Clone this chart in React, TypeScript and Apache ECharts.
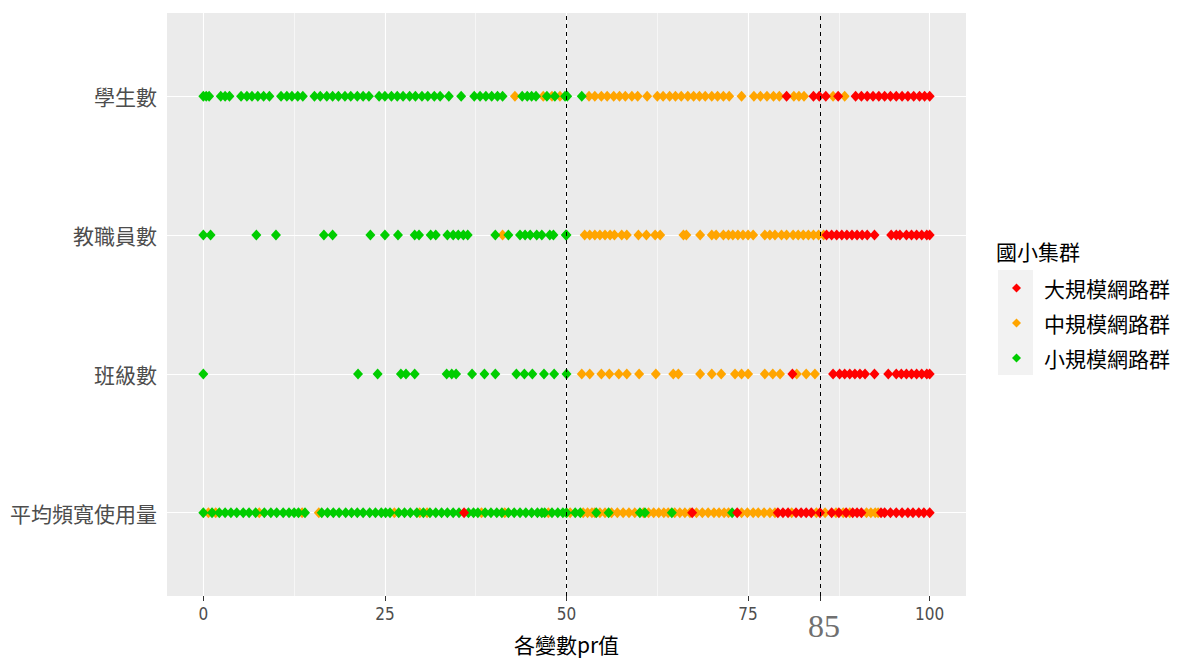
import React, { useEffect, useRef } from "react";
import * as echarts from "echarts";

// Rows (bottom to top)
const rowNames = ["平均頻寬使用量", "班級數", "教職員數", "學生數"];
const groupNames = ["大規模網路群", "中規模網路群", "小規模網路群"];
const groupColors = ["#FF0000", "#FFA500", "#00CD00"];
const xTicks = [0, 25, 50, 75, 100];
const xMinor = [12.5, 37.5, 62.5, 87.5];
const refLines = [50, 85];

// 學生數
const studentSmall = [0, 0.4, 0.8, 2.4, 3.0, 3.6, 5.2, 6.0, 6.7, 7.5, 8.3, 9.1, 10.7, 11.5, 12.2, 13.0, 13.7, 15.3, 16.1, 17.0, 17.8, 18.6, 19.5, 20.3, 21.2, 22.0, 22.8, 24.2, 25.0, 25.9, 26.7, 27.5, 28.4, 29.2, 30.1, 30.9, 31.8, 32.6, 33.8, 35.5, 37.3, 38.1, 38.9, 39.7, 40.5, 41.2, 43.9, 44.6, 45.2, 45.8, 47.3, 48.4, 49.8, 50.1, 52.1];
const studentMid = [42.9, 46.8, 48.0, 49.1, 53.1, 53.9, 54.8, 55.6, 56.5, 57.3, 58.1, 59.0, 59.8, 61.1, 62.5, 63.3, 64.2, 65.0, 65.8, 66.7, 67.5, 68.3, 69.1, 70.0, 70.8, 71.6, 72.4, 74.1, 75.8, 76.7, 77.6, 78.5, 79.3, 81.3, 82.0, 82.7, 86.7, 88.3];
const studentLarge = [80.3, 84.0, 84.8, 85.7, 87.4, 89.8, 90.6, 91.4, 92.2, 93.0, 93.8, 94.6, 95.4, 96.2, 97.0, 97.8, 98.6, 99.3, 100];

// 教職員數
const staffSmall = [0, 1.0, 7.3, 10.0, 16.6, 17.8, 23.0, 25.0, 26.8, 29.1, 29.7, 31.3, 32.0, 33.6, 34.4, 35.1, 35.8, 36.4, 40.2, 42.0, 43.6, 44.3, 45.0, 45.9, 46.6, 47.7, 48.2, 49.9, 50.0];
const staffMid = [41.2, 52.5, 53.2, 53.9, 54.6, 55.3, 56.0, 56.6, 57.6, 58.3, 59.9, 61.0, 62.2, 62.9, 66.1, 66.5, 68.4, 70.0, 70.6, 71.6, 72.3, 72.9, 73.6, 74.3, 75.0, 75.7, 77.3, 78.0, 78.7, 79.6, 80.3, 81.2, 81.9, 82.6, 83.3, 84.0, 84.7, 85.4];
const staffLarge = [85.8, 86.5, 87.2, 87.9, 88.6, 89.3, 90.0, 90.7, 91.4, 92.4, 94.7, 95.4, 95.9, 96.8, 97.5, 98.2, 98.9, 99.6, 100];

// 班級數
const classSmall = [0, 21.3, 24.0, 27.2, 27.9, 29.1, 33.5, 34.2, 34.8, 37.0, 38.7, 40.2, 43.1, 44.2, 45.3, 46.9, 48.3, 50.0];
const classMid = [52.1, 53.2, 54.8, 55.9, 57.2, 58.3, 60.0, 62.3, 64.7, 65.4, 68.4, 70.0, 71.3, 73.2, 74.1, 75.0, 77.3, 78.4, 79.4, 81.7, 83.0, 84.2];
const classLarge = [81.1, 86.7, 87.6, 88.3, 89.0, 89.7, 90.4, 91.1, 92.4, 94.3, 95.4, 96.1, 96.8, 97.5, 98.2, 98.9, 99.6, 100];

// 平均頻寬使用量
const bwSmall = [0, 1.2, 2.2, 3.0, 3.8, 4.6, 5.5, 6.3, 7.2, 8.4, 9.3, 10.1, 11.0, 11.8, 12.5, 13.1, 14.0, 16.3, 17.1, 17.9, 18.7, 19.6, 20.4, 21.2, 22.0, 22.9, 23.7, 24.5, 25.1, 25.7, 26.9, 27.7, 28.5, 29.4, 30.3, 31.2, 32.0, 32.8, 33.6, 34.4, 35.2, 36.5, 37.2, 37.8, 38.8, 39.6, 40.4, 41.1, 42.0, 42.8, 43.6, 44.4, 45.2, 46.0, 46.6, 47.0, 48.0, 48.8, 49.5, 50.0, 51.2, 51.9, 54.1, 55.8, 60.1, 60.8, 64.5, 72.8];
const bwMid = [0.7, 1.7, 7.7, 13.6, 15.9, 26.3, 29.8, 30.8, 38.3, 41.5, 47.5, 50.5, 52.3, 52.9, 53.5, 53.9, 54.6, 55.3, 56.2, 57.0, 57.8, 58.6, 59.4, 60.6, 61.3, 62.0, 62.7, 63.4, 64.0, 64.9, 65.6, 66.3, 67.0, 67.9, 68.7, 69.5, 70.3, 71.0, 71.7, 72.3, 74.1, 74.9, 75.7, 76.4, 77.2, 78.0, 78.7, 81.0, 84.4, 85.6, 87.1, 88.1, 89.0, 91.3, 91.9, 92.5, 92.9];
const bwLarge = [35.9, 67.3, 73.5, 79.1, 79.8, 80.5, 81.6, 82.3, 83.0, 83.7, 84.9, 86.5, 87.5, 88.5, 89.4, 90.0, 90.6, 93.3, 93.8, 94.6, 95.4, 96.2, 97.0, 97.7, 98.5, 99.2, 100];

const CJK = "'Noto Sans CJK TC', 'Noto Sans CJK SC', sans-serif";
const NARROW = "'Liberation Sans Narrow', 'DejaVu Sans Condensed', 'Roboto Condensed', 'Liberation Sans', sans-serif";

function pts(rowsData: number[][]): number[][] {
  const out: number[][] = [];
  rowsData.forEach((arr, i) => arr.forEach((v) => out.push([v, i + 1])));
  return out;
}

export default function App() {
  const ref = useRef<HTMLDivElement>(null);
  useEffect(() => {
    if (!ref.current) return;
    const chart = echarts.init(ref.current, null, { renderer: "svg" });
    const large = pts([bwLarge, classLarge, staffLarge, studentLarge]);
    const mid = pts([bwMid, classMid, staffMid, studentMid]);
    const small = pts([bwSmall, classSmall, staffSmall, studentSmall]);
    const gridLines: any[] = [
      ...xTicks.map((v) => ({ xAxis: v, lineStyle: { color: "#FFFFFF", width: 1.1, type: "solid" } })),
      ...xMinor.map((v) => ({ xAxis: v, lineStyle: { color: "#FFFFFF", width: 0.55, type: "solid" } })),
      ...[1, 2, 3, 4].map((v) => ({ yAxis: v, lineStyle: { color: "#FFFFFF", width: 1.1, type: "solid" } })),
    ];
    const sym = "diamond";
    const symSize = [10, 11];
    const mk = (i: number, data: number[][]) => ({
      type: "scatter",
      name: groupNames[i],
      data,
      symbol: sym,
      symbolSize: symSize,
      itemStyle: { color: groupColors[i], opacity: 1 },
      emphasis: { disabled: true },
      z: 3,
    });
    chart.setOption({
      animation: false,
      backgroundColor: "#FFFFFF",
      title: {
        text: "國小集群",
        left: 996,
        top: 240,
        padding: 0,
        textStyle: { fontSize: 21, fontWeight: "normal", color: "#000000", fontFamily: CJK },
      },
      legend: {
        data: groupNames,
        orient: "vertical",
        left: 1012,
        top: 276,
        itemWidth: 9,
        itemHeight: 9,
        itemGap: 11,
        icon: "diamond",
        padding: 0,
        itemStyle: { opacity: 1 },
        textStyle: { fontSize: 21, color: "#000000", fontFamily: CJK, lineHeight: 24, padding: [0, 0, 0, 18] },
      },
      graphic: [
        { type: "rect", left: 998, top: 270, shape: { width: 35, height: 105 }, style: { fill: "#F2F2F2" }, z: -1 },
        {
          type: "text",
          left: 808,
          top: 610,
          style: { text: "85", fontSize: 32, fontFamily: "'Liberation Serif', serif", fill: "#707070" },
        },
      ],
      grid: {
        left: 167,
        top: 13,
        width: 799,
        height: 587,
        show: true,
        backgroundColor: "#EBEBEB",
        borderWidth: 0,
      },
      xAxis: {
        type: "value",
        min: -5,
        max: 105,
        name: "各變數pr值",
        nameLocation: "middle",
        nameGap: 37,
        nameTextStyle: { fontSize: 21, color: "#000000", fontFamily: CJK },
        axisLine: { show: false },
        axisTick: { show: true, length: 5, lineStyle: { color: "#333333" }, customValues: [0, 25, 50, 75, 85, 100] },
        axisLabel: { customValues: xTicks, color: "#4D4D4D", fontSize: 17, fontFamily: NARROW, margin: 9 },
        splitLine: { show: false },
      },
      yAxis: {
        type: "value",
        min: 0.4,
        max: 4.6,
        axisLine: { show: false },
        axisTick: { show: true, length: 5, lineStyle: { color: "#333333" }, customValues: [1, 2, 3, 4] },
        axisLabel: {
          customValues: [1, 2, 3, 4],
          formatter: (v: number) => rowNames[Math.round(v) - 1] ?? "",
          color: "#4D4D4D",
          fontSize: 21,
          fontFamily: CJK,
          margin: 10,
        },
        splitLine: { show: false },
      },
      series: [
        {
          type: "scatter",
          name: "__grid",
          data: [],
          silent: true,
          z: 1,
          markLine: { z: 1, silent: true, symbol: ["none", "none"], label: { show: false }, data: gridLines, animation: false },
        },
        mk(1, mid),
        mk(2, small),
        mk(0, large),
        {
          type: "scatter",
          name: "__ref",
          data: [],
          silent: true,
          z: 5,
          markLine: {
            z: 6,
            silent: true,
            symbol: ["none", "none"],
            label: { show: false },
            lineStyle: { color: "#000000", width: 1, type: [4, 4] },
            data: refLines.map((v) => ({ xAxis: v })),
            animation: false,
          },
        },
      ],
    });
    return () => chart.dispose();
  }, []);
  return <div ref={ref} style={{ position: "fixed", left: 0, top: 0, width: 1180, height: 659 }} />;
}
